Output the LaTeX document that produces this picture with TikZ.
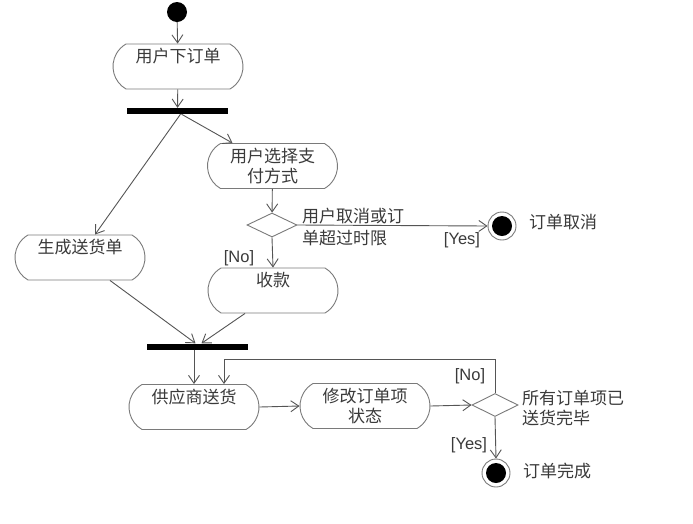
\documentclass[tikz,border=0pt]{standalone}
\usepackage{fontspec}
\setmainfont{Liberation Sans}
\newfontfamily\cjk{Noto Sans CJK SC}
\usetikzlibrary{arrows.meta,shapes.geometric,shapes.misc}
\definecolor{linegray}{HTML}{555555}
\definecolor{boxgray}{HTML}{7A7A7A}
\definecolor{textgray}{HTML}{3A3A3A}
\tikzset{
  action/.style={rounded rectangle, rounded rectangle arc length=120, draw=boxgray, line width=0.9pt,
    minimum width=130pt, minimum height=45pt, inner sep=0pt, align=center, text=textgray,
    font=\cjk\fontsize{17}{20}\selectfont},
  upper/.style={text height=12pt, text depth=20pt},
  bar/.style={fill=black, minimum width=101pt, minimum height=6pt, inner sep=0pt},
  decision/.style={diamond, draw=boxgray, line width=0.9pt, aspect=2, minimum width=50pt,
    minimum height=24pt, inner sep=0pt},
  startnode/.style={circle, fill=black, minimum size=20pt, inner sep=0pt},
  endnode/.style={circle, draw=boxgray, line width=0.9pt, minimum size=28pt, inner sep=0pt,
    path picture={\fill[black] (path picture bounding box.center) circle (10pt);}},
  flow/.style={draw=linegray, line width=0.9pt, -{Straight Barb[length=8pt,width=11pt]}},
  note/.style={text=textgray, font=\cjk\fontsize{17}{22}\selectfont, align=left, inner sep=0pt},
  guard/.style={text=textgray, font=\fontsize{16.5}{18}\selectfont, inner sep=0pt},
}
\begin{document}
\begin{tikzpicture}[x=1pt, y=-1pt]
    \useasboundingbox[fill=white] (0,0) rectangle (693,523);

    % Nodes
    \node[startnode] (start) at (177,12) {};
    \node[action, upper] (order) at (178,66.5) {用户下订单};
    \node[bar] (fork) at (177.5,111) {};
    \node[action] (pay) at (272.5,166) {用户选择支\\付方式};
    \node[decision] (check) at (272,225) {};
    \node[endnode] (cancel) at (502,226) {};
    \node[action, upper] (ship) at (80,257.5) {生成送货单};
    \node[action, upper] (collect) at (273,290.5) {收款};
    \node[bar] (join) at (197.5,346.5) {};
    \node[action, upper] (supply) at (194,407) {供应商送货};
    \node[action] (modify) at (365,406) {修改订单项\\状态};
    \node[decision, minimum width=46pt, minimum height=23pt] (alldone) at (495,405) {};
    \node[endnode] (done) at (496,473) {};

    % Labels
    \node[note, anchor=west] (checktxt) at (302,227) {用户取消或订\\单超过时限};
    \node[guard] (yes1) at (462,240) {[Yes]};
    \node[guard] (no1) at (239,258) {[No]};
    \node[note, anchor=west] (canceltxt) at (529,222) {订单取消};
    \node[note, anchor=west, font=\cjk\fontsize{17}{19.5}\selectfont] (alltxt) at (522,408) {所有订单项已\\送货完毕};
    \node[guard] (no2) at (470,376) {[No]};
    \node[guard] (yes2) at (469,445) {[Yes]};
    \node[note, anchor=west] (donetxt) at (523,471) {订单完成};

    % Flows
    \draw[flow] (start) -- (order);
    \draw[flow] (order) -- (fork);
    \draw[flow] ([xshift=3pt]fork.south) -- ([xshift=15pt]ship.north);
    \draw[flow] ([xshift=4pt]fork.south) -- ([xshift=-40pt]pay.north);
    \draw[flow] (pay) -- (check);
    \draw[flow] (check.east) -- (cancel.west);
    \draw[flow] (check.south) -- (collect.north);
    \draw[flow] ([xshift=30pt]ship.south) -- ([xshift=-2pt]join.north);
    \draw[flow] ([xshift=-28pt]collect.south) -- ([xshift=4pt]join.north);
    \draw[flow] (join.south -| supply.north) -- (supply.north);
    \draw[flow] (supply.east) -- (modify.west);
    \draw[flow] (modify.east) -- (alldone.west);
    \draw[flow] (alldone.north) -- ++(0,-33.5) -| ([xshift=30pt]supply.north);
    \draw[flow] (alldone.south) -- (done.north);
\end{tikzpicture}
\end{document}
